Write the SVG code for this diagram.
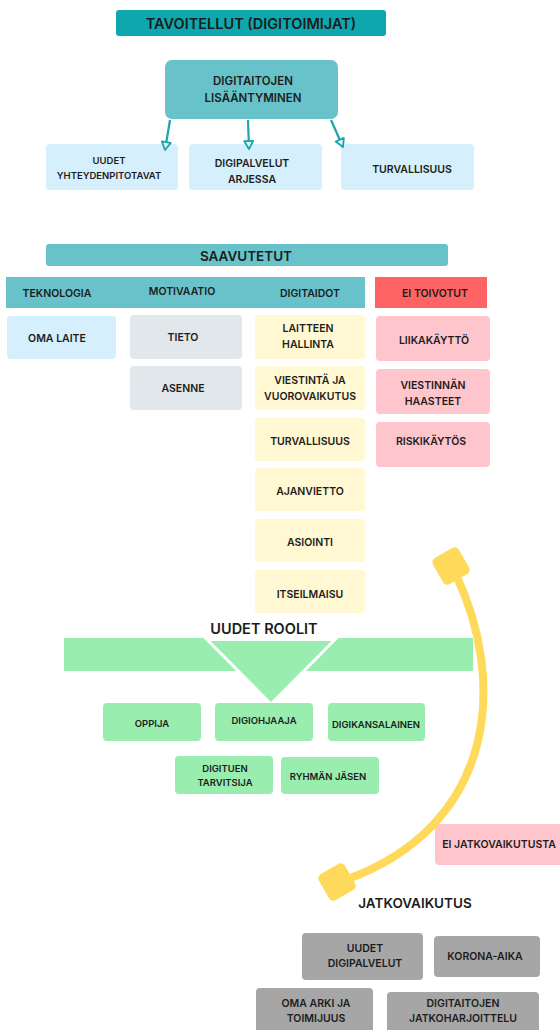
<svg xmlns="http://www.w3.org/2000/svg" width="560" height="1030" viewBox="0 0 560 1030">
<defs>
<style>
text{font-family:Inter,"Open Sans","Liberation Sans",sans-serif;font-weight:600;fill:#1c1c1c;text-anchor:middle}
.s9{font-size:9.5px}.s10{font-size:10.5px}.s11{font-size:11.5px}.s13{font-size:13.5px}.s14{font-size:14.5px}
.teal{fill:#0ea7ae}.lteal{fill:#67c3c9}.blue{fill:#d5effc}.grey{fill:#e1e7ea}.yel{fill:#fff8d2}
.red{fill:#ff6464}.pink{fill:#ffc5cc}.green{fill:#99edae}.dgrey{fill:#a6a6a6}
.arr{stroke:#1aa5ab;stroke-width:2.2;fill:none}
</style>
<marker id="ah" viewBox="0 0 12 12" refX="10" refY="6" markerWidth="12" markerHeight="12" markerUnits="userSpaceOnUse" orient="auto">
<path d="M2 1.5 L10 6 L2 10.5 Z" fill="#e8f7f8" stroke="#1aa5ab" stroke-width="1.8" stroke-linejoin="round"/>
</marker>
</defs>

<g id="title"><rect class="teal" x="116" y="10" width="270" height="26" rx="3"/><text class="s14" x="251" y="28.5">TAVOITELLUT (DIGITOIMIJAT)</text></g>
<g id="digitaitojen"><rect class="lteal" x="165" y="60" width="173" height="59" rx="7"/><text class="s11" x="253" y="85">DIGITAITOJEN</text><text class="s11" x="253" y="102">LISÄÄNTYMINEN</text></g>
<g id="uudet-yhteydenpitotavat"><rect class="blue" x="46" y="144" width="132" height="46" rx="4"/><text class="s9" x="109" y="164">UUDET</text><text class="s9" x="109" y="179">YHTEYDENPITOTAVAT</text></g>
<g id="digipalvelut-arjessa"><rect class="blue" x="189" y="144" width="133" height="46" rx="4"/><text class="s10" x="252" y="167">DIGIPALVELUT</text><text class="s10" x="252" y="183">ARJESSA</text></g>
<g id="turvallisuus-t"><rect class="blue" x="341" y="144" width="133" height="46" rx="4"/><text class="s10" x="412" y="173">TURVALLISUUS</text></g>

<g id="saavutetut"><rect class="lteal" x="46" y="244" width="402" height="22" rx="3"/><text class="s13" x="246" y="261">SAAVUTETUT</text></g>
<g id="header"><rect class="lteal" x="6" y="277" width="359" height="31"/><text class="s10" x="57" y="297">TEKNOLOGIA</text><text class="s10" x="182" y="295">MOTIVAATIO</text><text class="s10" x="310" y="297">DIGITAIDOT</text></g>
<g id="ei-toivotut"><rect class="red" x="375" y="277" width="112" height="31"/><text class="s10" x="435" y="297">EI TOIVOTUT</text></g>

<g id="oma-laite"><rect class="blue" x="7" y="316" width="109" height="43" rx="4"/><text class="s10" x="57" y="342">OMA LAITE</text></g>
<g id="tieto"><rect class="grey" x="130" y="315" width="112" height="44" rx="4"/><text class="s10" x="183" y="341">TIETO</text></g>
<g id="asenne"><rect class="grey" x="130" y="366" width="112" height="44" rx="4"/><text class="s10" x="183" y="392">ASENNE</text></g>

<g id="laitteen-hallinta"><rect class="yel" x="255" y="315" width="110" height="44" rx="4"/><text class="s10" x="308" y="332">LAITTEEN</text><text class="s10" x="308" y="348">HALLINTA</text></g>
<g id="viestinta"><rect class="yel" x="255" y="366" width="110" height="44" rx="4"/><text class="s10" x="310" y="384">VIESTINTÄ JA</text><text class="s10" x="310" y="400">VUOROVAIKUTUS</text></g>
<g id="turvallisuus"><rect class="yel" x="255" y="418" width="110" height="43" rx="4"/><text class="s10" x="310" y="445">TURVALLISUUS</text></g>
<g id="ajanvietto"><rect class="yel" x="255" y="468" width="110" height="43" rx="4"/><text class="s10" x="310" y="495">AJANVIETTO</text></g>
<g id="asiointi"><rect class="yel" x="255" y="519" width="110" height="43" rx="4"/><text class="s10" x="310" y="546">ASIOINTI</text></g>
<g id="itseilmaisu"><rect class="yel" x="255" y="570" width="110" height="43" rx="4"/><text class="s10" x="310" y="598">ITSEILMAISU</text></g>

<g id="liikakaytto"><rect class="pink" x="376" y="316" width="114" height="45" rx="4"/><text class="s10" x="434" y="344">LIIKAKÄYTTÖ</text></g>
<g id="viestinnan-haasteet"><rect class="pink" x="376" y="369" width="114" height="45" rx="4"/><text class="s10" x="433" y="389">VIESTINNÄN</text><text class="s10" x="433" y="405">HAASTEET</text></g>
<g id="riskikaytos"><rect class="pink" x="376" y="422" width="114" height="45" rx="4"/><text class="s10" x="431" y="445">RISKIKÄYTÖS</text></g>

<g id="uudet-roolit"><rect class="green" x="64" y="638" width="409" height="33"/><polygon class="green" points="207,639.5 335,639.5 271,704" stroke="#ffffff" stroke-width="3"/><text class="s14" x="264" y="634">UUDET ROOLIT</text></g>
<g id="oppija"><rect class="green" x="103" y="703" width="98" height="38" rx="4"/><text class="s9" x="152" y="727">OPPIJA</text></g>
<g id="digiohjaaja"><rect class="green" x="215" y="703" width="98" height="38" rx="4"/><text class="s9" x="264" y="724">DIGIOHJAAJA</text></g>
<g id="digikansalainen"><rect class="green" x="328" y="703" width="97" height="38" rx="4"/><text class="s9" x="376" y="728">DIGIKANSALAINEN</text></g>
<g id="digituen-tarvitsija"><rect class="green" x="175" y="756" width="98" height="38" rx="4"/><text class="s9" x="225" y="772">DIGITUEN</text><text class="s9" x="225" y="786">TARVITSIJA</text></g>
<g id="ryhman-jasen"><rect class="green" x="281" y="757" width="98" height="37" rx="4"/><text class="s9" x="328" y="780">RYHMÄN JÄSEN</text></g>

<g id="ei-jatkovaikutusta"><rect class="pink" x="435" y="824" width="130" height="41" rx="4"/><text class="s10" x="499" y="848">EI JATKOVAIKUTUSTA</text></g>
<g id="jatkovaikutus"><text class="s13" x="415" y="908">JATKOVAIKUTUS</text></g>
<g id="uudet-digipalvelut"><rect class="dgrey" x="302" y="933" width="121" height="47" rx="4"/><text class="s10" x="365" y="952">UUDET</text><text class="s10" x="365" y="967">DIGIPALVELUT</text></g>
<g id="korona-aika"><rect class="dgrey" x="434" y="936" width="106" height="41" rx="4"/><text class="s10" x="485" y="960">KORONA-AIKA</text></g>
<g id="oma-arki"><rect class="dgrey" x="256" y="988" width="117" height="50" rx="4"/><text class="s10" x="316" y="1007">OMA ARKI JA</text><text class="s10" x="316" y="1022">TOIMIJUUS</text></g>
<g id="digitaitojen-jatko"><rect class="dgrey" x="387" y="992" width="152" height="46" rx="4"/><text class="s10" x="463" y="1007">DIGITAITOJEN</text><text class="s10" x="463" y="1022">JATKOHARJOITTELU</text></g>

<g id="connectors">
<path class="arr" d="M170 120 L165 150" marker-end="url(#ah)"/>
<path class="arr" d="M248 120 L249 149" marker-end="url(#ah)"/>
<path class="arr" d="M331 120 L343 147" marker-end="url(#ah)"/>
<path d="M456 575 C506 680 498 825 345 880" fill="none" stroke="#ffd95a" stroke-width="8"/>
<rect x="436" y="551" width="30" height="30" rx="5" fill="#ffd95a" transform="rotate(-30 451 566)"/>
<rect x="322" y="867" width="30" height="30" rx="5" fill="#ffd95a" transform="rotate(-30 337 882)"/>
</g>
</svg>
